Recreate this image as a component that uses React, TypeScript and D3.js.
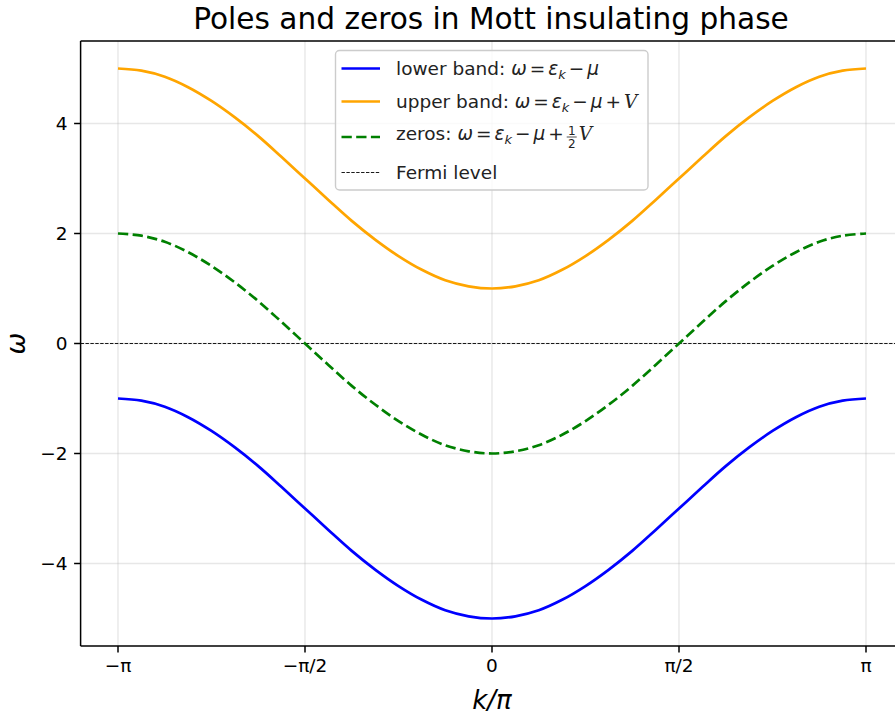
import React, { useLayoutEffect, useRef, useState } from "react";
import * as d3 from "d3";

// Crystal momentum sampled in units of pi
const kOverPi = [
  -1, -0.9375, -0.875, -0.8125, -0.75, -0.6875, -0.625, -0.5625, -0.5,
  -0.4375, -0.375, -0.3125, -0.25, -0.1875, -0.125, -0.0625, 0,
  0.0625, 0.125, 0.1875, 0.25, 0.3125, 0.375, 0.4375, 0.5,
  0.5625, 0.625, 0.6875, 0.75, 0.8125, 0.875, 0.9375, 1,
];

// Lower Hubbard band (poles)
const lowerBand = [
  -1.0, -1.04, -1.15, -1.34, -1.59, -1.89, -2.23, -2.61, -3.0,
  -3.39, -3.77, -4.11, -4.41, -4.66, -4.85, -4.96, -5.0,
  -4.96, -4.85, -4.66, -4.41, -4.11, -3.77, -3.39, -3.0,
  -2.61, -2.23, -1.89, -1.59, -1.34, -1.15, -1.04, -1.0,
];

// Upper Hubbard band (poles)
const upperBand = [
  5.0, 4.96, 4.85, 4.66, 4.41, 4.11, 3.77, 3.39, 3.0,
  2.61, 2.23, 1.89, 1.59, 1.34, 1.15, 1.04, 1.0,
  1.04, 1.15, 1.34, 1.59, 1.89, 2.23, 2.61, 3.0,
  3.39, 3.77, 4.11, 4.41, 4.66, 4.85, 4.96, 5.0,
];

// Zeros of the Green's function
const zerosLine = [
  2.0, 1.96, 1.85, 1.66, 1.41, 1.11, 0.77, 0.39, 0.0,
  -0.39, -0.77, -1.11, -1.41, -1.66, -1.85, -1.96, -2.0,
  -1.96, -1.85, -1.66, -1.41, -1.11, -0.77, -0.39, 0.0,
  0.39, 0.77, 1.11, 1.41, 1.66, 1.85, 1.96, 2.0,
];

const fermiLevel = 0;

const xTicks = [-1, -0.5, 0, 0.5, 1];
const xTickLabels = ["−π", "−π/2", "0", "π/2", "π"];
const yTicks = [-4, -2, 0, 2, 4];

const W = 895;
const H = 715;
const M = { left: 80.6, right: 903.4, top: 41, bottom: 646 };

const FONT = "DejaVu Sans, sans-serif";
const FS = 18.5; // tick and legend text
const LW = 2.7; // curve width
const TICK = 6.5;
const OP = 3; // gap around math operators

export default function App() {
  const x = d3.scaleLinear().domain([-1.1, 1.1]).range([M.left, M.right]);
  const y = d3.scaleLinear().domain([-5.5, 5.5]).range([M.bottom, M.top]);

  const pts = (vals: number[]) => kOverPi.map((k, i) => [k, vals[i]] as [number, number]);
  const line = d3
    .line<[number, number]>()
    .x((d) => x(d[0]))
    .y((d) => y(d[1]))
    .curve(d3.curveCatmullRom.alpha(0.5));

  const legendX = 335.5;
  const legendY = 50.5;
  const rows = [68.5, 101.5, 137, 172.5];
  const hx0 = 341.5;
  const hx1 = 380;
  const tx = 396;

  // measure the zeros label so the fraction can sit right after it
  const zerosRef = useRef<SVGTextElement>(null);
  const [fracX, setFracX] = useState(tx + 200);
  useLayoutEffect(() => {
    if (zerosRef.current) {
      const b = zerosRef.current.getBBox();
      setFracX(b.x + b.width + OP);
    }
  }, []);

  const greekEq = (
    <>
      <tspan fontStyle="italic">ω</tspan>
      <tspan dx={OP}>=</tspan>
      <tspan dx={OP} fontStyle="italic">ε</tspan>
      <tspan fontStyle="italic" fontSize={FS * 0.7} dy={4}>k</tspan>
      <tspan dx={OP} dy={-4}>−</tspan>
      <tspan dx={OP} fontStyle="italic">μ</tspan>
    </>
  );

  return (
    <svg
      width={W}
      height={H}
      style={{ display: "block", position: "absolute", left: 0, top: 0, background: "#fff" }}
      fontFamily={FONT}
    >
      <defs>
        <clipPath id="plotArea">
          <rect x={M.left} y={M.top} width={M.right - M.left} height={M.bottom - M.top} />
        </clipPath>
      </defs>

      {/* grid */}
      <g stroke="#b0b0b0" strokeOpacity={0.3} strokeWidth={1.4}>
        {xTicks.map((t) => (
          <line key={"gx" + t} x1={x(t)} x2={x(t)} y1={M.top} y2={M.bottom} />
        ))}
        {yTicks.map((t) => (
          <line key={"gy" + t} x1={M.left} x2={M.right} y1={y(t)} y2={y(t)} />
        ))}
      </g>

      {/* curves */}
      <g clipPath="url(#plotArea)" fill="none">
        <line
          x1={M.left}
          x2={M.right}
          y1={y(fermiLevel)}
          y2={y(fermiLevel)}
          stroke="#000"
          strokeWidth={0.9}
          strokeDasharray="3.4,1.5"
        />
        <path d={line(pts(lowerBand)) ?? ""} stroke="#0000ff" strokeWidth={LW} />
        <path d={line(pts(upperBand)) ?? ""} stroke="#ffa500" strokeWidth={LW} />
        <path d={line(pts(zerosLine)) ?? ""} stroke="#008000" strokeWidth={LW} strokeDasharray="10.3,4.4" />
      </g>

      {/* spines */}
      <g stroke="#000" strokeWidth={1.5} fill="none">
        <line x1={M.left} x2={M.left} y1={M.top} y2={M.bottom} />
        <line x1={M.left} x2={M.right} y1={M.bottom} y2={M.bottom} />
        <line x1={M.left} x2={M.right} y1={M.top} y2={M.top} />
        <line x1={M.right} x2={M.right} y1={M.top} y2={M.bottom} />
      </g>

      {/* x ticks */}
      <g>
        {xTicks.map((t, i) => (
          <g key={"xt" + t}>
            <line x1={x(t)} x2={x(t)} y1={M.bottom} y2={M.bottom + TICK} stroke="#000" strokeWidth={1.5} />
            <text x={x(t)} y={672} textAnchor="middle" fontSize={FS} fill="#000">
              {xTickLabels[i]}
            </text>
          </g>
        ))}
      </g>

      {/* y ticks */}
      <g>
        {yTicks.map((t) => (
          <g key={"yt" + t}>
            <line x1={M.left - TICK} x2={M.left} y1={y(t)} y2={y(t)} stroke="#000" strokeWidth={1.5} />
            <text x={M.left - 2 * TICK} y={y(t) + 6.7} textAnchor="end" fontSize={FS} fill="#000">
              {t < 0 ? "−" + Math.abs(t) : String(t)}
            </text>
          </g>
        ))}
      </g>

      {/* axis labels */}
      <text x={(M.left + M.right) / 2} y={709} textAnchor="middle" fontSize={26} fontStyle="italic" fill="#000">
        k/π
      </text>
      <text
        transform={`translate(25,${y(0)}) rotate(-90)`}
        textAnchor="middle"
        fontSize={26}
        fontStyle="italic"
        fill="#000"
      >
        ω
      </text>

      {/* title */}
      <text x={491} y={28.5} textAnchor="middle" fontSize={29.6} fill="#000">
        Poles and zeros in Mott insulating phase
      </text>

      {/* legend */}
      <g>
        <rect
          x={legendX}
          y={legendY}
          width={312.5}
          height={139.5}
          rx={4}
          fill="#fff"
          fillOpacity={0.8}
          stroke="#cccccc"
          strokeWidth={1.4}
        />
        <line x1={hx0} x2={hx1} y1={rows[0]} y2={rows[0]} stroke="#0000ff" strokeWidth={LW} />
        <line x1={hx0} x2={hx1} y1={rows[1]} y2={rows[1]} stroke="#ffa500" strokeWidth={LW} />
        <line x1={hx0} x2={hx1} y1={rows[2]} y2={rows[2]} stroke="#008000" strokeWidth={LW} strokeDasharray="10.3,4.4" />
        <line x1={hx0} x2={hx1} y1={rows[3]} y2={rows[3]} stroke="#000" strokeWidth={0.9} strokeDasharray="3.4,1.5" />

        <text x={tx} y={rows[0] + 6.5} fontSize={FS} fill="#222">
          <tspan>lower band: </tspan>
          {greekEq}
        </text>
        <text x={tx} y={rows[1] + 6.5} fontSize={FS} fill="#222">
          <tspan>upper band: </tspan>
          {greekEq}
          <tspan dx={OP}>+</tspan>
          <tspan dx={OP} fontFamily="DejaVu Serif, serif" fontStyle="italic">V</tspan>
        </text>
        <text ref={zerosRef} x={tx} y={rows[2] + 3} fontSize={FS} fill="#222">
          <tspan>zeros: </tspan>
          {greekEq}
          <tspan dx={OP}>+</tspan>
        </text>
        <g fill="#222">
          <text x={fracX + 5} y={rows[2] - 2} fontSize={12} textAnchor="middle">1</text>
          <line x1={fracX} x2={fracX + 10} y1={rows[2]} y2={rows[2]} stroke="#222" strokeWidth={0.8} />
          <text x={fracX + 5} y={rows[2] + 11} fontSize={12} textAnchor="middle">2</text>
          <text x={fracX + 12} y={rows[2] + 3} fontSize={FS} fontFamily="DejaVu Serif, serif" fontStyle="italic">
            V
          </text>
        </g>
        <text x={tx} y={rows[3] + 6.5} fontSize={FS} fill="#222">
          Fermi level
        </text>
      </g>
    </svg>
  );
}
